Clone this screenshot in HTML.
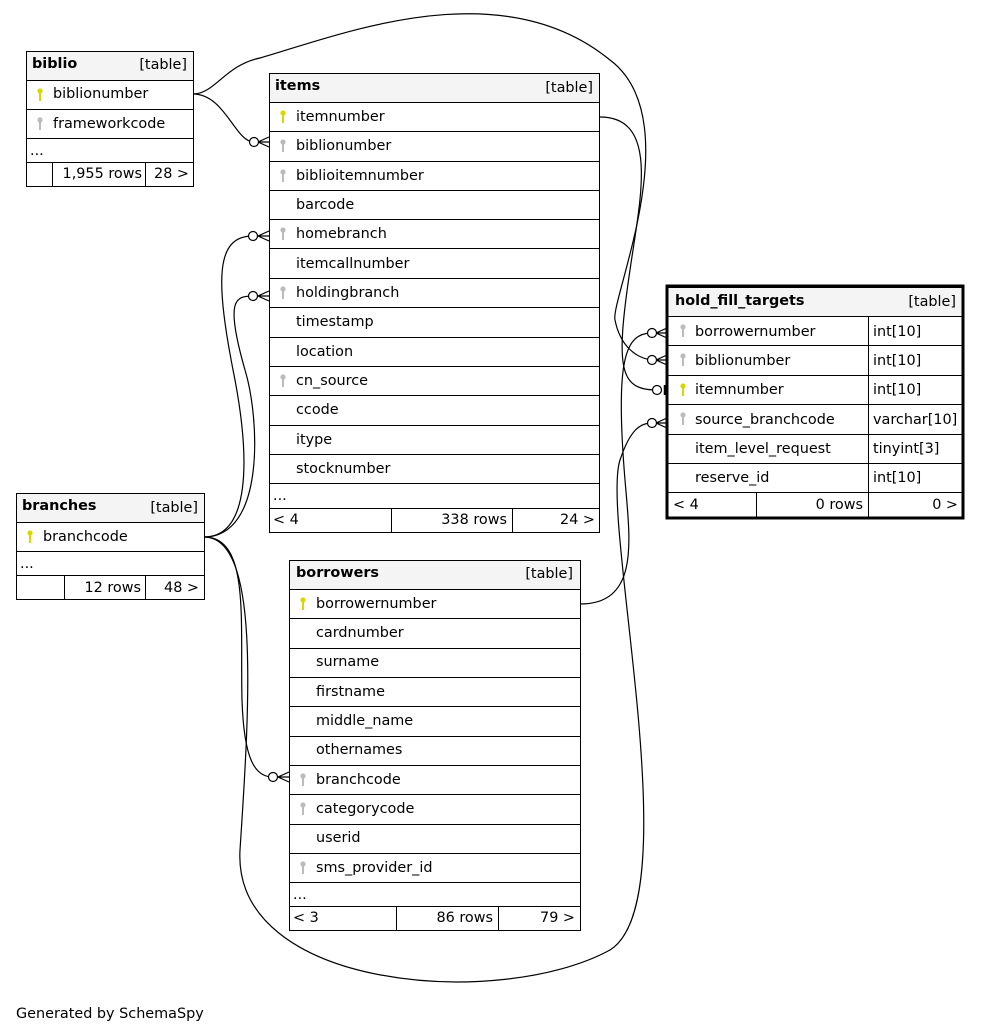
<!DOCTYPE html>
<html><head><meta charset="utf-8"><style>
html,body{margin:0;padding:0;background:#fff}
svg{display:block}
text{font-family:"DejaVu Sans","Liberation Sans",sans-serif;font-size:14.4px;fill:#000}
.b{font-weight:bold}
.r{stroke:#000;stroke-width:1;fill:#fff}
.h{stroke:#000;stroke-width:1;fill:#f4f4f4}
.e{fill:none;stroke:#000;stroke-width:1.2}
.c{fill:#fff;stroke:#000;stroke-width:1.2}
</style></head><body>
<svg width="981" height="1034" viewBox="0 0 981 1034" xmlns="http://www.w3.org/2000/svg">
<defs>
<g id="kp"><circle cx="0" cy="-3" r="2.6" fill="#d8d800"/><rect x="-1" y="-2" width="2" height="9" fill="#d8d800"/></g>
<g id="kf"><circle cx="0" cy="-3" r="2.6" fill="#bbb"/><rect x="-1" y="-2" width="2" height="9" fill="#bbb"/></g>
</defs>

<!-- edges -->
<path class="e" d="M193,94 C225,94 235,142 254,142"/>
<path class="e" d="M193,94 C215,94 225,65 260,58 C340,35 500,-30 610,60 C690,120 610,300 615,320 C620,345 635,358 652,360"/>
<path class="e" d="M600,117 C660,117 640,200 630,270 C615,370 620,390 657,390"/>
<path class="e" d="M204,537 C250,537 250,460 235,380 C215,280 215,236 253,236"/>
<path class="e" d="M204,537 C265,537 260,420 245,370 C225,300 235,296 253,296"/>
<path class="e" d="M204,537 C250,537 240,620 242,700 C244,760 255,777 273,777"/>
<path class="e" d="M204,537 C260,537 250,700 240,850 C232,990 500,1010 610,950 C690,900 600,520 620,460 C630,430 640,423 652,423"/>
<path class="e" d="M580,604 C640,604 630,540 625,480 C615,360 625,333 652,333"/>

<!-- crow feet -->
<g stroke="#000" stroke-width="1.2" fill="none">
<path d="M269,137 L258,142 L269,147 M258,142 L269,142"/>
<path d="M269,231 L258,236 L269,241 M258,236 L269,236"/>
<path d="M269,291 L258,296 L269,301 M258,296 L269,296"/>
<path d="M289,772 L278,777 L289,782 M278,777 L289,777"/>
<path d="M667,328 L656,333 L667,338 M656,333 L667,333"/>
<path d="M667,355 L656,360 L667,365 M656,360 L667,360"/>
<path d="M667,418 L656,423 L667,428 M656,423 L667,423"/>
<path d="M665,385 L665,395" stroke-width="2.5"/>
</g>
<circle class="c" cx="254" cy="142" r="4.5"/>
<circle class="c" cx="253" cy="236" r="4.5"/>
<circle class="c" cx="253" cy="296" r="4.5"/>
<circle class="c" cx="273" cy="777" r="4.5"/>
<circle class="c" cx="652" cy="333" r="4.5"/>
<circle class="c" cx="652" cy="360" r="4.5"/>
<circle class="c" cx="657" cy="390" r="4.5"/>
<circle class="c" cx="652" cy="423" r="4.5"/>

<!-- biblio -->
<rect class="h" x="26.5" y="51.5" width="167" height="29"/>
<rect class="r" x="26.5" y="80.5" width="167" height="29"/>
<rect class="r" x="26.5" y="109.5" width="167" height="29"/>
<rect class="r" x="26.5" y="138.5" width="167" height="24"/>
<rect class="r" x="26.5" y="162.5" width="167" height="24"/>
<line x1="52.5" y1="162" x2="52.5" y2="187" stroke="#000"/><line x1="145.5" y1="162" x2="145.5" y2="187" stroke="#000"/>
<text class="b" x="32" y="68">biblio</text><text x="187" y="69" text-anchor="end">[table]</text>
<use href="#kp" x="40" y="94"/><text x="53" y="98">biblionumber</text>
<use href="#kf" x="40" y="123"/><text x="53" y="128">frameworkcode</text>
<text x="30" y="155">...</text>
<text x="142" y="178" text-anchor="end">1,955 rows</text><text x="189" y="178" text-anchor="end">28 &gt;</text>

<!-- items -->
<rect class="h" x="269.5" y="73.5" width="330" height="29"/>
<g>
<rect class="r" x="269.5" y="102.5" width="330" height="29"/>
<rect class="r" x="269.5" y="131.5" width="330" height="30"/>
<rect class="r" x="269.5" y="161.5" width="330" height="29"/>
<rect class="r" x="269.5" y="190.5" width="330" height="29"/>
<rect class="r" x="269.5" y="219.5" width="330" height="29"/>
<rect class="r" x="269.5" y="248.5" width="330" height="30"/>
<rect class="r" x="269.5" y="278.5" width="330" height="29"/>
<rect class="r" x="269.5" y="307.5" width="330" height="30"/>
<rect class="r" x="269.5" y="337.5" width="330" height="29"/>
<rect class="r" x="269.5" y="366.5" width="330" height="29"/>
<rect class="r" x="269.5" y="395.5" width="330" height="30"/>
<rect class="r" x="269.5" y="425.5" width="330" height="29"/>
<rect class="r" x="269.5" y="454.5" width="330" height="29"/>
<rect class="r" x="269.5" y="483.5" width="330" height="25"/>
<rect class="r" x="269.5" y="508.5" width="330" height="24"/>
</g>
<line x1="391.5" y1="508" x2="391.5" y2="533" stroke="#000"/><line x1="512.5" y1="508" x2="512.5" y2="533" stroke="#000"/>
<text class="b" x="275" y="90">items</text><text x="593" y="92" text-anchor="end">[table]</text>
<use href="#kp" x="283" y="116"/><text x="296" y="121">itemnumber</text>
<use href="#kf" x="283" y="145"/><text x="296" y="150">biblionumber</text>
<use href="#kf" x="283" y="175"/><text x="296" y="180">biblioitemnumber</text>
<text x="296" y="209">barcode</text>
<use href="#kf" x="283" y="233"/><text x="296" y="238">homebranch</text>
<text x="296" y="268">itemcallnumber</text>
<use href="#kf" x="283" y="292"/><text x="296" y="297">holdingbranch</text>
<text x="296" y="326">timestamp</text>
<text x="296" y="356">location</text>
<use href="#kf" x="283" y="380"/><text x="296" y="385">cn_source</text>
<text x="296" y="414">ccode</text>
<text x="296" y="444">itype</text>
<text x="296" y="473">stocknumber</text>
<text x="273" y="500">...</text>
<text x="273" y="524">&lt; 4</text><text x="507" y="524" text-anchor="end">338 rows</text><text x="595" y="524" text-anchor="end">24 &gt;</text>

<!-- hold_fill_targets -->
<rect class="h" x="668" y="287.5" width="295" height="29"/>
<rect class="r" x="668" y="316.5" width="295" height="29"/>
<rect class="r" x="668" y="345.5" width="295" height="30"/>
<rect class="r" x="668" y="375.5" width="295" height="29"/>
<rect class="r" x="668" y="404.5" width="295" height="30"/>
<rect class="r" x="668" y="434.5" width="295" height="29"/>
<rect class="r" x="668" y="463.5" width="295" height="29"/>
<rect class="r" x="668" y="492.5" width="295" height="25"/>
<line x1="868.5" y1="316" x2="868.5" y2="518" stroke="#000"/><line x1="756.5" y1="492" x2="756.5" y2="518" stroke="#000"/>
<rect x="667" y="286" width="296" height="232" fill="none" stroke="#000" stroke-width="3"/>
<text class="b" x="675" y="305">hold_fill_targets</text><text x="956" y="306" text-anchor="end">[table]</text>
<use href="#kf" x="683" y="330"/><text x="695" y="336">borrowernumber</text><text x="873" y="336">int[10]</text>
<use href="#kf" x="683" y="359"/><text x="695" y="365">biblionumber</text><text x="873" y="365">int[10]</text>
<use href="#kp" x="683" y="389"/><text x="695" y="394">itemnumber</text><text x="873" y="394">int[10]</text>
<use href="#kf" x="683" y="418"/><text x="695" y="424">source_branchcode</text><text x="873" y="424">varchar[10]</text>
<text x="695" y="453">item_level_request</text><text x="873" y="453">tinyint[3]</text>
<text x="695" y="482">reserve_id</text><text x="873" y="482">int[10]</text>
<text x="673" y="509">&lt; 4</text><text x="863" y="509" text-anchor="end">0 rows</text><text x="958" y="509" text-anchor="end">0 &gt;</text>

<!-- branches -->
<rect class="h" x="16.5" y="493.5" width="188" height="29"/>
<rect class="r" x="16.5" y="522.5" width="188" height="29"/>
<rect class="r" x="16.5" y="551.5" width="188" height="24"/>
<rect class="r" x="16.5" y="575.5" width="188" height="24"/>
<line x1="64.5" y1="575" x2="64.5" y2="600" stroke="#000"/><line x1="145.5" y1="575" x2="145.5" y2="600" stroke="#000"/>
<text class="b" x="22" y="510">branches</text><text x="198" y="512" text-anchor="end">[table]</text>
<use href="#kp" x="30" y="536"/><text x="43" y="541">branchcode</text>
<text x="20" y="568">...</text>
<text x="141" y="592" text-anchor="end">12 rows</text><text x="199" y="592" text-anchor="end">48 &gt;</text>

<!-- borrowers -->
<rect class="h" x="289.5" y="560.5" width="291" height="29"/>
<rect class="r" x="289.5" y="589.5" width="291" height="29"/>
<rect class="r" x="289.5" y="618.5" width="291" height="30"/>
<rect class="r" x="289.5" y="648.5" width="291" height="29"/>
<rect class="r" x="289.5" y="677.5" width="291" height="29"/>
<rect class="r" x="289.5" y="706.5" width="291" height="30"/>
<rect class="r" x="289.5" y="736.5" width="291" height="29"/>
<rect class="r" x="289.5" y="765.5" width="291" height="29"/>
<rect class="r" x="289.5" y="794.5" width="291" height="30"/>
<rect class="r" x="289.5" y="824.5" width="291" height="29"/>
<rect class="r" x="289.5" y="853.5" width="291" height="29"/>
<rect class="r" x="289.5" y="882.5" width="291" height="24"/>
<rect class="r" x="289.5" y="906.5" width="291" height="24"/>
<line x1="396.5" y1="906" x2="396.5" y2="931" stroke="#000"/><line x1="498.5" y1="906" x2="498.5" y2="931" stroke="#000"/>
<text class="b" x="296" y="577">borrowers</text><text x="573" y="578" text-anchor="end">[table]</text>
<use href="#kp" x="303" y="603"/><text x="316" y="608">borrowernumber</text>
<text x="316" y="637">cardnumber</text>
<text x="316" y="666">surname</text>
<text x="316" y="696">firstname</text>
<text x="316" y="725">middle_name</text>
<text x="316" y="754">othernames</text>
<use href="#kf" x="303" y="779"/><text x="316" y="784">branchcode</text>
<use href="#kf" x="303" y="808"/><text x="316" y="813">categorycode</text>
<text x="316" y="842">userid</text>
<use href="#kf" x="303" y="867"/><text x="316" y="872">sms_provider_id</text>
<text x="293" y="899">...</text>
<text x="293" y="922">&lt; 3</text><text x="493" y="922" text-anchor="end">86 rows</text><text x="575" y="922" text-anchor="end">79 &gt;</text>

<text x="16" y="1018">Generated by SchemaSpy</text>
</svg>
</body></html>
